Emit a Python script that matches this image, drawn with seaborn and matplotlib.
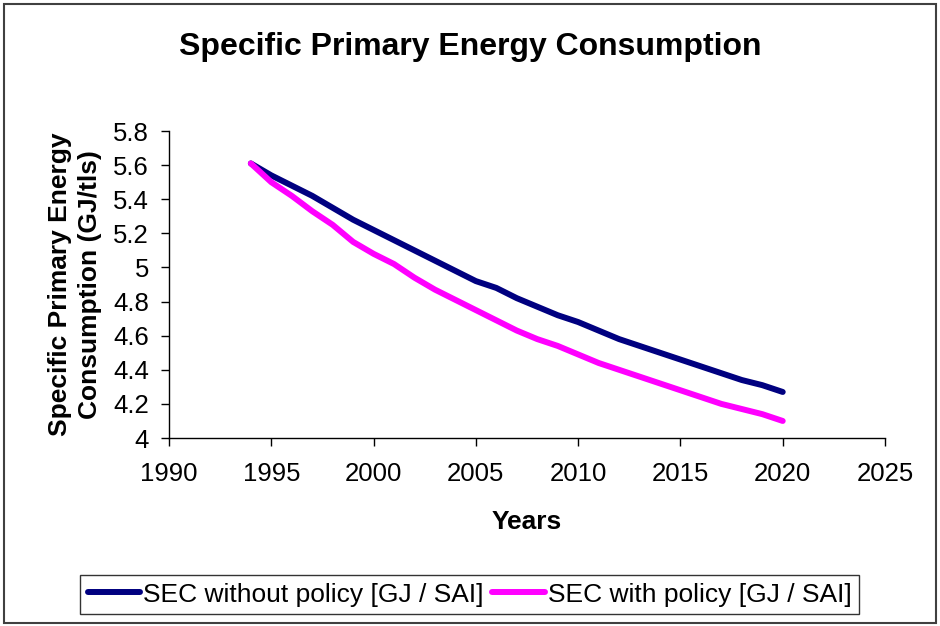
import matplotlib
matplotlib.use("Agg")
import matplotlib.pyplot as plt
from matplotlib.patches import Rectangle
import numpy as np
import pandas as pd
import seaborn as sns

# Yearly specific primary energy consumption, GJ per tonne
years = list(range(1994, 2021))
sec_without_policy = [5.61, 5.54, 5.48, 5.42, 5.35, 5.28, 5.22, 5.16, 5.10, 5.04,
                      4.98, 4.92, 4.88, 4.82, 4.77, 4.72, 4.68, 4.63, 4.58, 4.54,
                      4.50, 4.46, 4.42, 4.38, 4.34, 4.31, 4.27]
sec_with_policy = [5.61, 5.50, 5.42, 5.33, 5.25, 5.15, 5.08, 5.02, 4.94, 4.87,
                   4.81, 4.75, 4.69, 4.63, 4.58, 4.54, 4.49, 4.44, 4.40, 4.36,
                   4.32, 4.28, 4.24, 4.20, 4.17, 4.14, 4.10]
series_names = ["SEC without policy [GJ / SAI]", "SEC with policy [GJ / SAI]"]
series_colors = ["#000080", "#FF00FF"]
x_ticks = [1990, 1995, 2000, 2005, 2010, 2015, 2020, 2025]
y_ticks = [4, 4.2, 4.4, 4.6, 4.8, 5, 5.2, 5.4, 5.6, 5.8]
y_tick_labels = ["4", "4.2", "4.4", "4.6", "4.8", "5", "5.2", "5.4", "5.6", "5.8"]

df = pd.DataFrame({
    "Year": years * 2,
    "SEC": sec_without_policy + sec_with_policy,
    "Series": [series_names[0]] * len(years) + [series_names[1]] * len(years),
})

sns.set_theme(style="white")
plt.rcParams["font.family"] = ["Liberation Sans", "DejaVu Sans"]
plt.rcParams["text.color"] = "#000000"
plt.rcParams["axes.labelcolor"] = "#000000"

fig = plt.figure(figsize=(9.4, 6.26), dpi=100)
ax = fig.add_axes([0.1798, 0.3003, 0.7617, 0.4904])

sns.lineplot(data=df, x="Year", y="SEC", hue="Series", hue_order=series_names,
             palette=series_colors, linewidth=4.3, ax=ax, legend=False,
             solid_capstyle="round", solid_joinstyle="round")

ax.set_xlim(1990, 2025)
ax.set_ylim(4, 5.8)
ax.set_xticks(x_ticks)
ax.set_xticklabels([str(t) for t in x_ticks])
ax.set_yticks(y_ticks)
ax.set_yticklabels(y_tick_labels)

for side in ["top", "right"]:
    ax.spines[side].set_visible(False)
for side in ["left", "bottom"]:
    ax.spines[side].set_color("#000000")
    ax.spines[side].set_linewidth(1.0)

ax.tick_params(axis="both", which="major", direction="out", length=5.5, width=1.0,
               color="#000000", labelsize=18.5, labelcolor="#000000",
               left=True, bottom=True)
ax.tick_params(axis="x", pad=12)
ax.tick_params(axis="y", pad=9)

ax.set_xlabel("Years", fontsize=19, fontweight="bold", labelpad=17)
ax.set_ylabel("Specific Primary Energy\nConsumption (GJ/tls)", fontsize=19,
              fontweight="bold", labelpad=8, linespacing=1.3)

fig.text(0.5, 0.925, "Specific Primary Energy Consumption", ha="center",
         va="center", fontsize=23, fontweight="bold")

handles = [plt.Line2D([0], [0], color=c, linewidth=4.3, solid_capstyle="round")
           for c in series_colors]
leg = fig.legend(handles, series_names, loc="center", ncol=2,
                 bbox_to_anchor=(0.4995, 0.0503), fontsize=19, frameon=True,
                 fancybox=False, edgecolor="#000000", handlelength=2.0,
                 handletextpad=0.12, columnspacing=0.3, borderpad=0.3)
leg.get_frame().set_linewidth(1.0)

fig.patches.append(Rectangle((0.004, 0.004), 0.992, 0.99, transform=fig.transFigure,
                             fill=False, edgecolor="#404040", linewidth=1.5))

fig.savefig("out.png", dpi=100)
